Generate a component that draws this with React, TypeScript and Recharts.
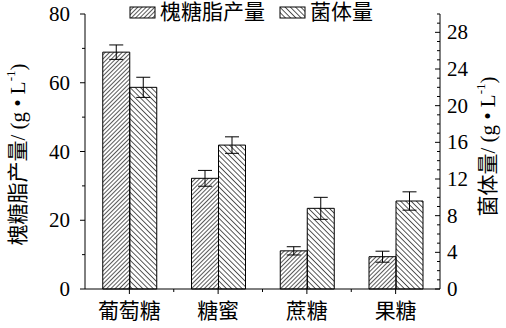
import React from 'react';
import { ComposedChart, Bar, XAxis, YAxis, ErrorBar, Legend } from 'recharts';

const categories = ['葡萄糖', '糖蜜', '蔗糖', '果糖'];
const sophorolipid = [68.9, 32.2, 11.1, 9.4];
const sophorolipidErr = [2.1, 2.3, 1.2, 1.6];
const biomass = [22.0, 15.7, 8.8, 9.6];
const biomassErr = [1.1, 0.9, 1.2, 1.0];
const leftTicks = [0, 10, 20, 30, 40, 50, 60, 70, 80];
const rightTicks = Array.from({ length: 31 }, (_, i) => i);
const seriesNames = ['槐糖脂产量', '菌体量'];

const data = categories.map((c, i) => ({
  name: c,
  s: sophorolipid[i],
  se: sophorolipidErr[i],
  b: biomass[i],
  be: biomassErr[i],
}));

const FONT = "'Liberation Serif', 'Times New Roman', 'Noto Sans CJK SC', serif";
const TXT = { fontFamily: FONT, fontSize: 21 } as React.CSSProperties;
const W = 506;
const H = 328;
const PLOT_LEFT = 85;
const PLOT_RIGHT = 440;
const BAND = (PLOT_RIGHT - PLOT_LEFT) / categories.length;

const LeftTick = (props: any) => {
  const { x, y, payload } = props;
  const major = payload.value % 20 === 0;
  return (
    <g>
      <line x1={x - (major ? 5 : 3)} x2={x} y1={y} y2={y} stroke="#000" strokeWidth={1} />
      {major && (
        <text x={x - 15} y={y} textAnchor="end" dominantBaseline="central" style={TXT} fill="#000">
          {payload.value}
        </text>
      )}
    </g>
  );
};

const RightTick = (props: any) => {
  const { x, y, payload } = props;
  const major = payload.value % 4 === 0;
  return (
    <g>
      <line x1={x - (major ? 5 : 3)} x2={x} y1={y} y2={y} stroke="#000" strokeWidth={1} />
      {major && payload.value <= 28 && (
        <text x={x + 7} y={y} textAnchor="start" dominantBaseline="central" style={TXT} fill="#000">
          {payload.value}
        </text>
      )}
    </g>
  );
};

const XTick = (props: any) => {
  const { x, y, payload, index } = props;
  return (
    <g>
      <line x1={x} x2={x} y1={y} y2={y + 5} stroke="#000" strokeWidth={1} />
      {index < categories.length - 1 && (
        <line x1={x + BAND / 2} x2={x + BAND / 2} y1={y} y2={y + 3} stroke="#000" strokeWidth={1} />
      )}
      <text x={x} y={y + 22} textAnchor="middle" dominantBaseline="central" style={TXT} fill="#000">
        {payload.value}
      </text>
    </g>
  );
};

const AxisTitle = ({ cx, cy, name }: { cx: number; cy: number; name: string }) => (
  <text x={cx} y={cy} transform={`rotate(-90 ${cx} ${cy})`} textAnchor="middle" dominantBaseline="central" style={TXT} fill="#000">
    {name}/ (g • L<tspan dy={-8} fontSize={13}>-1</tspan><tspan dy={8}>)</tspan>
  </text>
);

const LeftLabel = (props: any) => {
  const vb = props.viewBox;
  return <AxisTitle cx={vb.x + 18} cy={vb.y + vb.height / 2 + 3} name={seriesNames[0]} />;
};

const RightLabel = (props: any) => {
  const vb = props.viewBox;
  return <AxisTitle cx={vb.x + 48} cy={vb.y + vb.height / 2 - 5} name={seriesNames[1]} />;
};

const Patterns = ({ a, b }: { a: string; b: string }) => (
  <defs>
    <pattern id={a} patternUnits="userSpaceOnUse" width={3} height={3} patternTransform="rotate(45)">
      <line x1={0} y1={0} x2={0} y2={3} stroke="#000" strokeWidth={1.3} />
    </pattern>
    <pattern id={b} patternUnits="userSpaceOnUse" width={3.7} height={3.7} patternTransform="rotate(-45)">
      <line x1={0} y1={0} x2={0} y2={3.7} stroke="#000" strokeWidth={1.3} />
    </pattern>
  </defs>
);

const LegendContent = () => (
  <svg width={W} height={28} style={{ display: 'block', overflow: 'visible' }}>
    <Patterns a="lgA" b="lgB" />
    <rect x={130} y={7} width={25} height={11} fill="url(#lgA)" stroke="#000" strokeWidth={1} />
    <text x={160} y={12} dominantBaseline="central" style={TXT} fill="#000">{seriesNames[0]}</text>
    <rect x={280} y={7} width={25} height={11} fill="url(#lgB)" stroke="#000" strokeWidth={1} />
    <text x={310} y={12} dominantBaseline="central" style={TXT} fill="#000">{seriesNames[1]}</text>
  </svg>
);

export default function App() {
  return (
    <div style={{ position: 'absolute', left: 0, top: 0, width: W, height: H, background: '#fff' }}>
      <ComposedChart
        width={W}
        height={H}
        data={data}
        margin={{ top: 0, right: 0, bottom: 0, left: 0 }}
        barCategoryGap="20%"
        barGap={0}
      >
        <Patterns a="hatchA" b="hatchB" />
        <Legend
          verticalAlign="top"
          align="center"
          content={<LegendContent />}
          wrapperStyle={{ top: 0, left: 0, width: W, height: 14, overflow: 'visible' }}
        />
        <XAxis
          dataKey="name"
          height={39}
          tickSize={0}
          tickMargin={0}
          tickLine={false}
          axisLine={{ stroke: '#000', strokeWidth: 1 }}
          tick={<XTick />}
          interval={0}
        />
        <YAxis
          yAxisId="left"
          orientation="left"
          width={85}
          domain={[0, 80]}
          ticks={leftTicks}
          tickSize={0}
          tickMargin={0}
          tickLine={false}
          axisLine={{ stroke: '#000', strokeWidth: 1 }}
          tick={<LeftTick />}
          interval={0}
          label={<LeftLabel />}
        />
        <YAxis
          yAxisId="right"
          orientation="right"
          width={66}
          domain={[0, 30]}
          ticks={rightTicks}
          tickSize={0}
          tickMargin={0}
          tickLine={false}
          axisLine={{ stroke: '#000', strokeWidth: 1 }}
          tick={<RightTick />}
          interval={0}
          label={<RightLabel />}
        />
        <Bar yAxisId="left" dataKey="s" name={seriesNames[0]} fill="url(#hatchA)" stroke="#000" strokeWidth={1} isAnimationActive={false}>
          <ErrorBar dataKey="se" width={7} stroke="#000" strokeWidth={1} />
        </Bar>
        <Bar yAxisId="right" dataKey="b" name={seriesNames[1]} fill="url(#hatchB)" stroke="#000" strokeWidth={1} isAnimationActive={false}>
          <ErrorBar dataKey="be" width={7} stroke="#000" strokeWidth={1} />
        </Bar>
      </ComposedChart>
    </div>
  );
}
